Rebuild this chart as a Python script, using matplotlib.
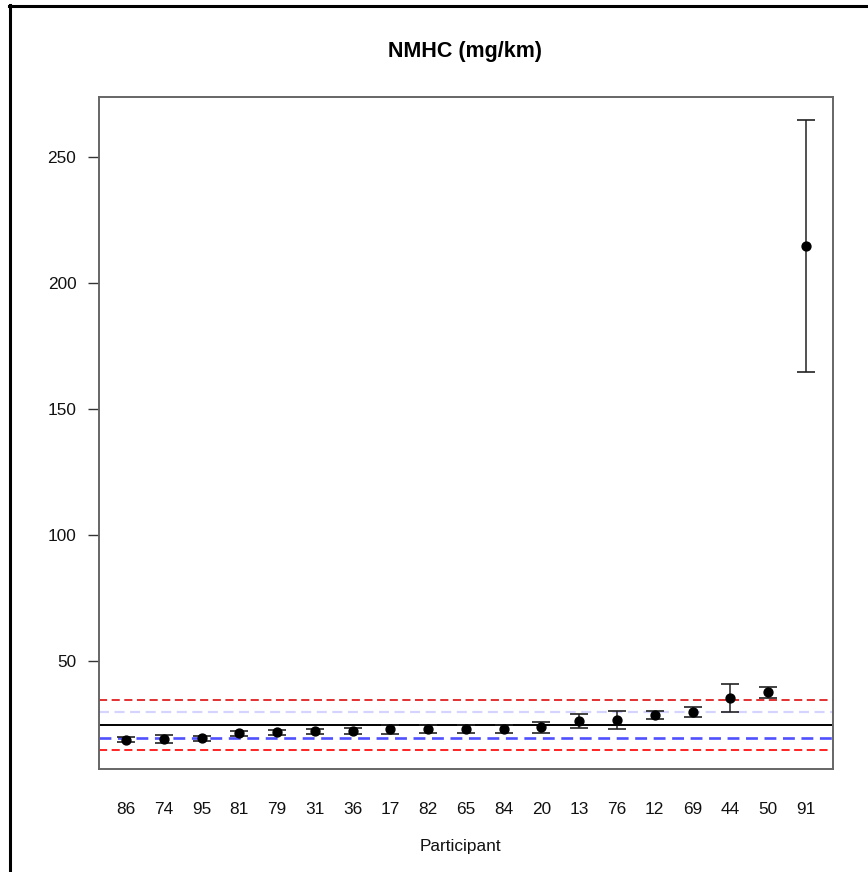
import matplotlib
matplotlib.use("Agg")
import matplotlib.pyplot as plt
from matplotlib.lines import Line2D

# Participants ordered by mean NMHC emission
participants = ["86", "74", "95", "81", "79", "31", "36", "17", "82", "65",
                "84", "20", "13", "76", "12", "69", "44", "50", "91"]
nmhc_mean = [18.8, 19.0, 19.3, 21.3, 21.7, 22.1, 22.3, 22.9, 23.0, 23.2,
             23.2, 23.7, 26.3, 26.7, 28.6, 29.8, 35.3, 37.6, 214.5]
nmhc_err = [0.9, 1.7, 1.1, 1.0, 1.05, 1.05, 1.1, 1.7, 1.7, 1.6,
            1.6, 2.3, 2.7, 3.5, 1.6, 2.1, 5.5, 2.1, 50.0]

# Reference levels: overall mean with +/-5 and +/-10 bands
ref_mean = 24.6
inner_band = 5.0
outer_band = 10.0

y_ticks = [50, 100, 150, 200, 250]

W, H, DPI = 868, 872, 100
plt.rcParams["font.family"] = ["Liberation Sans", "DejaVu Sans"]

fig = plt.figure(figsize=(W / DPI, H / DPI), dpi=DPI)
fig.patch.set_facecolor("white")

left, right, top, bottom = 98.5, 833.0, 97.0, 768.7
ax = fig.add_axes([left / W, 1 - bottom / H, (right - left) / W, (bottom - top) / H])

x = list(range(1, len(participants) + 1))

# reference lines
dash = (0, (4.5, 2.5))
ax.axhline(ref_mean + outer_band, color="#e02020", lw=1.3, ls=dash, zorder=1)
ax.axhline(ref_mean + inner_band, color="#d4d4ff", lw=1.6, ls=dash, zorder=1)
ax.axhline(ref_mean, color="black", lw=1.4, zorder=1)
ax.axhline(ref_mean - inner_band, color="#5050ff", lw=1.9, ls=dash, zorder=1)
ax.axhline(ref_mean - outer_band, color="#ff1010", lw=1.3, ls=dash, zorder=1)

ax.errorbar(x, nmhc_mean, yerr=nmhc_err, fmt="o", color="black", ms=6.4,
            ecolor="#222222", elinewidth=1.1, capsize=6.5, capthick=1.2, zorder=3)

ax.set_xlim(0.27, 19.72)
ax.set_ylim(7.3, 273.8)

ax.set_xticks(x)
ax.set_xticklabels(participants, fontsize=12.4, color="#111111")
ax.tick_params(axis="x", length=0, pad=24)
ax.set_yticks(y_ticks)
ax.set_yticklabels([str(v) for v in y_ticks], fontsize=12.4, color="#111111")
ax.tick_params(axis="y", length=8, width=1.0, color="#333333", pad=8)

for sp in ax.spines.values():
    sp.set_color("#666666")
    sp.set_linewidth(1.4)

fig.text(465.5 / W, 1 - 52 / H, "NMHC (mg/km)", ha="center", va="center",
         fontsize=15.5, fontweight="bold")
fig.text(460 / W, 1 - 846 / H, "Participant", ha="center", va="center",
         fontsize=12.4, color="#111111")

# page frame around the figure
fig.add_artist(Line2D([10 / W, 10 / W], [0, 1 - 5 / H], transform=fig.transFigure,
                      color="black", lw=2.2))
fig.add_artist(Line2D([9 / W, 1], [1 - 6 / H, 1 - 6 / H], transform=fig.transFigure,
                      color="black", lw=2.2))

fig.savefig("out.png", dpi=DPI, facecolor="white")
